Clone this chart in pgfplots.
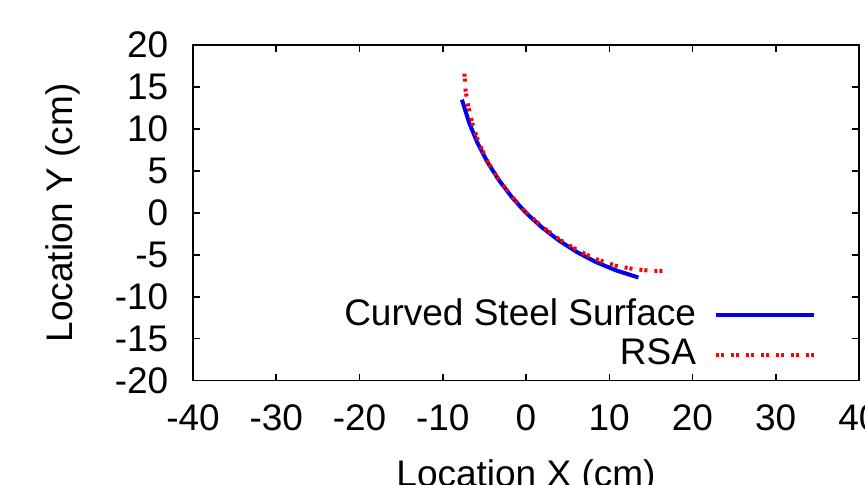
\documentclass[border=0pt]{standalone}
\usepackage{fontspec}
\setmainfont{Liberation Sans}
\usepackage{pgfplots}
\pgfplotsset{compat=1.18}
\definecolor{gpblue}{RGB}{0,0,240}
\definecolor{gpred}{RGB}{255,0,0}
\begin{document}
\fontsize{18.5}{22}\selectfont
\begin{tikzpicture}
\begin{axis}[
  scale only axis,
  width=333pt, height=167.8pt,
  xmin=-40, xmax=40, ymin=-20, ymax=20,
  xtick={-40,-30,...,40},
  ytick={-20,-15,...,20},
  tick align=inside,
  major tick length=3.5pt,
  axis line style={line width=0.75pt},
  every tick/.style={black, line width=0.75pt},
  /pgf/number format/assume math mode=true,
  xticklabel style={yshift=-5.5pt},
  yticklabel style={xshift=-6pt},
  xlabel={Location X (cm)},
  ylabel={Location Y (cm)},
  xlabel style={yshift=-2pt},
  ylabel style={yshift=5pt},
  legend plot pos=right,
  legend cell align=right,
  legend image code/.code={\draw[#1] (0pt,0pt) -- (49pt,0pt);},
  legend style={draw=none, fill=none, at={(0.945,0.006)}, anchor=south east,
    row sep=0pt, column sep=7pt, font=\fontsize{18.5}{22}\selectfont},
]
\addplot[gpblue, line width=2pt] coordinates {
(-7.7,13.5) (-6.83,10.75) (-5.85,8.38) (-4.66,6.10) (-3.28,3.94)
(-1.72,1.90) (0,0) (1.90,-1.72) (3.94,-3.28) (6.10,-4.66)
(8.38,-5.85) (10.75,-6.83) (13.5,-7.7)
};
\addlegendentry{Curved Steel Surface}
\addplot[gpred, line width=2pt, dash pattern={on 1.5pt off 1pt on 1.5pt off 3.5pt}] coordinates {
(-7.4,16.6) (-7.25,14.5) (-6.9,12.5) (-6.4,10.5) (-5.7,8.4)
(-4.6,6.1) (-3.3,4.0) (-1.7,1.95) (0,0.05) (1.9,-1.6)
(3.9,-3.1) (6.1,-4.4) (8.4,-5.5) (10.8,-6.3) (13,-6.7)
(15,-6.9) (16.8,-6.9)
};
\addlegendentry{RSA}
\end{axis}
\pgfresetboundingbox
\useasboundingbox (-96.5pt,-52.15pt) rectangle (336pt,190.35pt);
\end{tikzpicture}
\end{document}
